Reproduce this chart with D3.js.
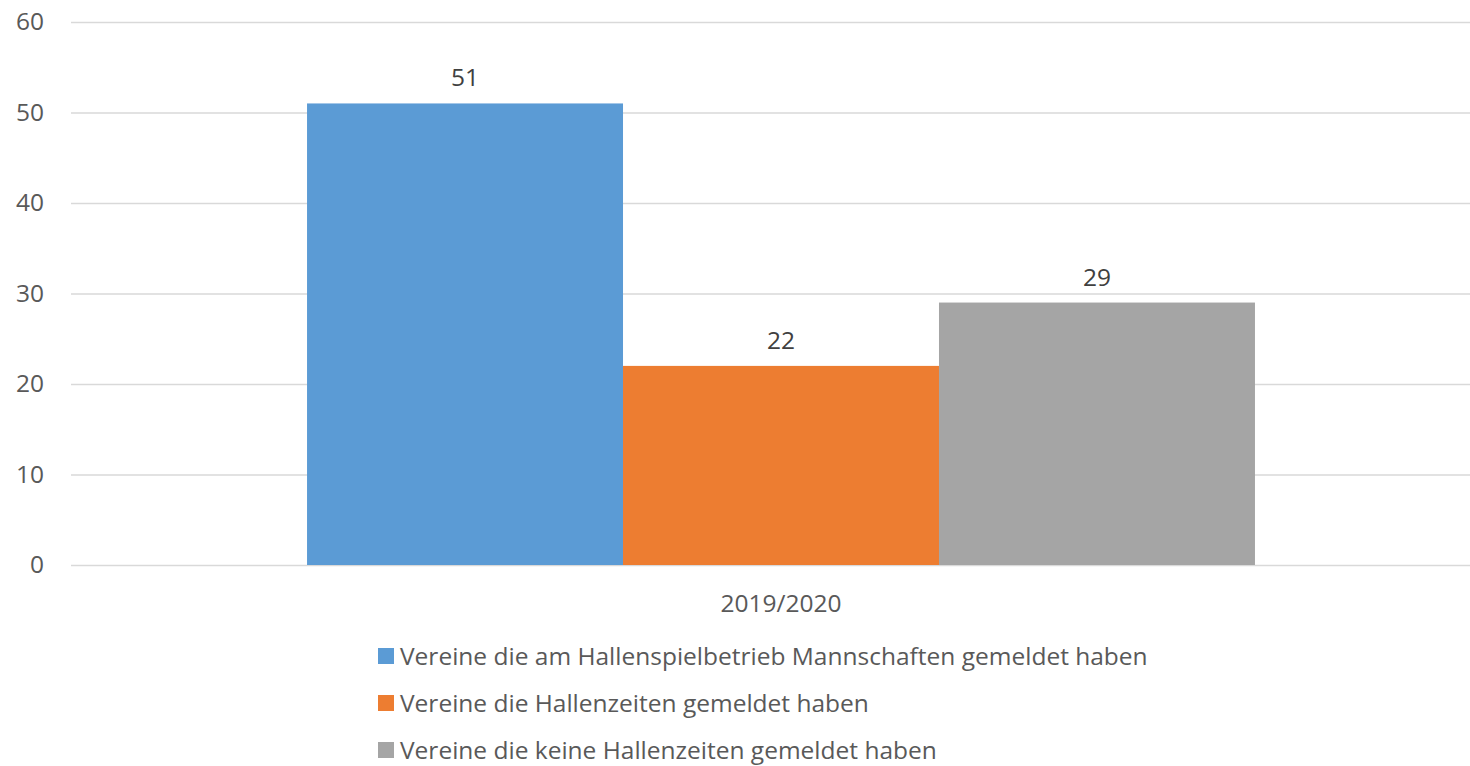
<!DOCTYPE html>
<html><head><meta charset="utf-8">
<script src="https://cdn.jsdelivr.net/npm/d3@7"></script>
<style>body{margin:0;background:#fff}svg{display:block}text{font-family:"Open Sans",sans-serif;fill:#595959}</style>
</head><body><svg id="c" width="1470" height="766"></svg>
<script>
const categories = ["2019/2020"];
const seriesNames = ["Vereine die am Hallenspielbetrieb Mannschaften gemeldet haben","Vereine die Hallenzeiten gemeldet haben","Vereine die keine Hallenzeiten gemeldet haben"];
const seriesValues = [51, 22, 29];
const seriesColors = ["#5B9BD5","#ED7D31","#A5A5A5"];
const yTicks = [0,10,20,30,40,50,60];

const svg = d3.select("#c");
const fs = 24.5;
const y = d3.scaleLinear().domain([0,60]).range([565,22]);
const x0 = d3.scaleBand().domain(categories).range([71,1491]).paddingOuter(0.249).paddingInner(0);
const x1 = d3.scaleBand().domain(seriesNames).range([0,x0.bandwidth()]).padding(0);

const yAxis = d3.axisLeft(y).tickValues(yTicks).tickSize(-(1470-71)).tickPadding(27);
const gy = svg.append("g").attr("transform","translate(71,0)").call(yAxis);
gy.select(".domain").remove();
gy.selectAll(".tick line").attr("stroke","#d9d9d9").attr("stroke-width",1.3);
gy.selectAll(".tick text").attr("font-size",fs).attr("fill","#595959").style("font-family","'Open Sans',sans-serif");

const g = svg.append("g");
categories.forEach(c=>{
  const gg = g.append("g").attr("transform",`translate(${x0(c)},0)`);
  gg.selectAll("rect").data(seriesValues).join("rect")
    .attr("x",(d,i)=>x1(seriesNames[i])).attr("width",x1.bandwidth())
    .attr("y",d=>y(d)).attr("height",d=>y(0)-y(d)).attr("fill",(d,i)=>seriesColors[i]);
  gg.selectAll("text.v").data(seriesValues).join("text").attr("class","v")
    .attr("x",(d,i)=>x1(seriesNames[i])+x1.bandwidth()/2).attr("y",d=>y(d)-17)
    .attr("text-anchor","middle").attr("font-size",fs).style("fill","#404040").text(d=>d);
  svg.append("text").attr("x",x0(c)+x0.bandwidth()/2).attr("y",612).attr("text-anchor","middle").attr("font-size",fs).text(c);
});

const legY = [656,703,750];
const lg = svg.append("g");
seriesNames.forEach((n,i)=>{
  lg.append("rect").attr("x",378).attr("y",legY[i]-8).attr("width",16).attr("height",16).attr("fill",seriesColors[i]);
  lg.append("text").attr("x",400).attr("y",legY[i]+9).attr("font-size",fs).text(n);
});
</script></body></html>
